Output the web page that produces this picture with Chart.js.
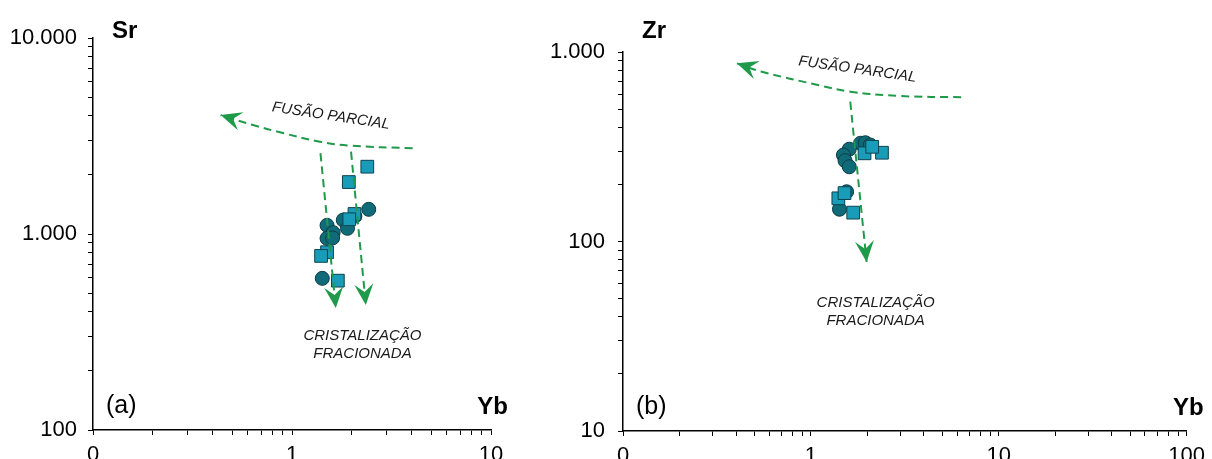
<!DOCTYPE html>
<html>
<head>
<meta charset="utf-8">
<script src="https://cdn.jsdelivr.net/npm/chart.js@4.4.1/dist/chart.umd.min.js"></script>
<style>
  html, body { margin: 0; padding: 0; background: #fff; }
  body { width: 1212px; height: 459px; position: relative; overflow: hidden; }
  canvas { position: absolute; top: 0; }
  #chartA { left: 0; }
  #chartB { left: 540px; }
</style>
</head>
<body>
<canvas id="chartA" width="520" height="459"></canvas>
<canvas id="chartB" width="672" height="459"></canvas>
<script>
// (a) Sr x Yb
const ybCirclesA = [2.43, 1.81, 1.90, 2.07, 1.50, 1.61, 1.50, 1.60, 1.42];
const srCirclesA = [1336, 1178, 1069, 1233, 1107, 1016, 950, 955, 594];
const ybSquaresA = [2.39, 1.93, 2.06, 1.94, 1.50, 1.40, 1.70];
const srSquaresA = [2205, 1841, 1265, 1189, 807, 773, 578];

// (b) Zr x Yb
const ybCirclesB = [1.84, 1.95, 2.07, 1.60, 1.49, 1.52, 1.60, 1.55, 1.42];
const zrCirclesB = [330, 332, 323, 307, 286, 267, 248, 183, 148];
const ybSquaresB = [2.39, 1.93, 2.12, 1.40, 1.51, 1.68];
const zrSquaresB = [294, 292, 316, 169, 180, 142];

// trend arrows (data units)
const fusaoYbA = [4.04, 1.95, 1.38, 0.90, 0.637, 0.438];
const fusaoSrA = [2735, 2825, 2958, 3274, 3597, 4047];
const cristYbA1 = [1.39, 1.66];
const cristSrA1 = [2584, 419];
const cristYbA2 = [1.98, 2.35];
const cristSrA2 = [2632, 434];

const fusaoYbB = [6.31, 2.98, 1.63, 1.09, 0.548, 0.404];
const fusaoZrB = [577, 586, 617, 670, 787, 871];
const cristYbB = [1.62, 1.98];
const cristZrB = [547, 78];

// axis ticks
const ybTicksA = [0.1, 1, 10];
const ybTickLabelsA = ['0', '1', '10'];
const srTicks = [100, 1000, 10000];
const srTickLabels = ['100', '1.000', '10.000'];
const ybTicksB = [0.1, 1, 10, 100];
const ybTickLabelsB = ['0', '1', '10', '100'];
const zrTicks = [10, 100, 1000];
const zrTickLabels = ['10', '100', '1.000'];

const FONT = '"Liberation Sans", Arial, sans-serif';
const GREEN = '#1f9a4a';
const TEXT = '#1a1a1a';

function pts(xs, ys) {
  return xs.map((x, i) => ({ x: x, y: ys[i] }));
}

function logTicks(majors) {
  const out = [];
  majors.forEach((m, i) => {
    out.push({ value: m });
    if (i < majors.length - 1) {
      for (let k = 2; k <= 9; k++) out.push({ value: m * k });
    }
  });
  return out;
}

function logAxis(pos, majors, labels, size, padding) {
  return {
    type: 'logarithmic',
    position: pos,
    min: majors[0],
    max: majors[majors.length - 1],
    border: { display: true, color: '#000', width: 1.5 },
    grid: { drawOnChartArea: false, drawTicks: true, tickLength: 5, tickColor: '#000', tickWidth: 1 },
    ticks: {
      autoSkip: false,
      maxRotation: 0,
      padding: padding,
      color: '#000',
      font: { family: FONT, size: 22 },
      callback: (v) => {
        const i = majors.findIndex(m => Math.abs(m - v) < m * 1e-6);
        return i >= 0 ? labels[i] : '';
      }
    },
    afterBuildTicks: (s) => { s.ticks = logTicks(majors); },
    afterFit: (s) => {
      if (pos === 'left') s.width = size; else s.height = size;
    }
  };
}

function circles(xs, ys) {
  return {
    data: pts(xs, ys), order: 3, pointStyle: 'circle', pointRadius: 7,
    backgroundColor: '#106b78', borderColor: '#0a3c45', borderWidth: 1
  };
}

function squares(xs, ys) {
  return {
    data: pts(xs, ys), order: 2, pointStyle: 'rect', pointRadius: 9,
    backgroundColor: '#189cb8', borderColor: '#0d4350', borderWidth: 1
  };
}

function arrow(xs, ys) {
  return {
    data: pts(xs, ys), order: 1, arrow: true, showLine: true, pointRadius: 0,
    borderColor: GREEN, borderWidth: 2, borderDash: [8, 5], tension: 0.4, fill: false
  };
}

const arrowPlugin = {
  id: 'arrowHeads',
  afterDatasetsDraw(chart) {
    const ctx = chart.ctx;
    chart.data.datasets.forEach((ds, i) => {
      if (!ds.arrow) return;
      const els = chart.getDatasetMeta(i).data;
      const a = els[els.length - 2], b = els[els.length - 1];
      const ang = Math.atan2(b.y - a.y, b.x - a.x);
      ctx.save();
      ctx.translate(b.x, b.y);
      ctx.rotate(ang);
      ctx.beginPath();
      ctx.moveTo(0, 0);
      ctx.lineTo(-21, -9.5);
      ctx.lineTo(-13, 0);
      ctx.lineTo(-21, 9.5);
      ctx.closePath();
      ctx.fillStyle = GREEN;
      ctx.fill();
      ctx.restore();
    });
  }
};

const labelPlugin = {
  id: 'panelLabels',
  afterDraw(chart, args, o) {
    const ctx = chart.ctx;
    const ca = chart.chartArea;
    const sx = chart.scales.x, sy = chart.scales.y;
    ctx.save();
    ctx.fillStyle = '#000';
    ctx.textBaseline = 'alphabetic';

    ctx.font = 'bold 24px ' + FONT;
    ctx.textAlign = 'left';
    ctx.fillText(o.yName, ca.left + 19, 38);
    ctx.textAlign = 'right';
    ctx.fillText('Yb', ca.right + 17, ca.bottom - 16);

    ctx.font = '25px ' + FONT;
    ctx.textAlign = 'left';
    ctx.fillText(o.panel, ca.left + 13, ca.bottom - 17);

    ctx.fillStyle = TEXT;
    ctx.font = 'italic 15px ' + FONT;
    ctx.save();
    ctx.translate(sx.getPixelForValue(o.fusao[0]), sy.getPixelForValue(o.fusao[1]));
    ctx.rotate(o.fusao[2] * Math.PI / 180);
    ctx.textAlign = 'center';
    ctx.textBaseline = 'middle';
    ctx.fillText('FUSÃO PARCIAL', 0, 0);
    ctx.restore();

    const cx = sx.getPixelForValue(o.crist[0]);
    const cy = sy.getPixelForValue(o.crist[1]);
    ctx.textAlign = 'center';
    ctx.fillText('CRISTALIZAÇÃO', cx, cy);
    ctx.fillText('FRACIONADA', cx, cy + 18.5);
    ctx.restore();
  }
};

function makeChart(id, datasets, xAxis, yAxis, pad, labels) {
  return new Chart(document.getElementById(id), {
    type: 'scatter',
    data: { datasets: datasets },
    options: {
      responsive: false,
      animation: false,
      events: [],
      layout: { padding: pad },
      scales: { x: xAxis, y: yAxis },
      plugins: {
        legend: { display: false },
        tooltip: { enabled: false },
        panelLabels: labels
      }
    },
    plugins: [arrowPlugin, labelPlugin]
  });
}

makeChart('chartA',
  [
    circles(ybCirclesA, srCirclesA),
    squares(ybSquaresA, srSquaresA),
    arrow(fusaoYbA, fusaoSrA),
    arrow(cristYbA1, cristSrA1),
    arrow(cristYbA2, cristSrA2)
  ],
  logAxis('bottom', ybTicksA, ybTickLabelsA, 29, 7),
  logAxis('left', srTicks, srTickLabels, 93, 11),
  { top: 38, right: 29, left: 0, bottom: 0 },
  { yName: 'Sr', panel: '(a)', fusao: [1.57, 4000, 8.5], crist: [2.26, 288] }
);

makeChart('chartB',
  [
    circles(ybCirclesB, zrCirclesB),
    squares(ybSquaresB, zrSquaresB),
    arrow(fusaoYbB, fusaoZrB),
    arrow(cristYbB, cristZrB)
  ],
  logAxis('bottom', ybTicksB, ybTickLabelsB, 28, 7),
  logAxis('left', zrTicks, zrTickLabels, 83, 13),
  { top: 52, right: 19, left: 0, bottom: 0 },
  { yName: 'Zr', panel: '(b)', fusao: [1.77, 809, 8], crist: [2.21, 45.3] }
);
</script>
</body>
</html>
